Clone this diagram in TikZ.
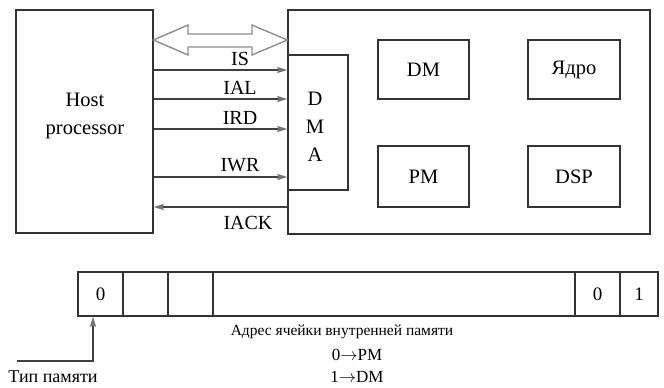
\documentclass[tikz,border=0pt]{standalone}
\usepackage{fontspec}
\setmainfont{Liberation Serif}
\usetikzlibrary{arrows.meta}

\tikzset{
    blk/.style={draw=black!80, line width=1.3pt, inner sep=0pt},
    sig/.style={draw=black!75, line width=1.3pt, -{Stealth[length=10pt, width=6pt, inset=1pt, black!55]}},
    lbl/.style={font=\fontsize{20}{24}\selectfont},
    big/.style={font=\fontsize{20.5}{28}\selectfont},
    small/.style={font=\fontsize{15.5}{18}\selectfont},
}

\begin{document}
\begin{tikzpicture}[x=1pt, y=-1pt]
        \useasboundingbox (0,0) rectangle (664,388);

        % Blocks
        \node[blk, minimum width=137pt, minimum height=223pt] (host) at (84.5,121.5) {};
        \node[big, align=center] at (85,116) {Host\\processor};
        \node[blk, minimum width=362pt, minimum height=224pt] (chip) at (469,122) {};
        \node[blk, minimum width=60pt, minimum height=135pt] (dma) at (318,122.5) {};
        \node[big, align=center] at (315,127) {D\\M\\A};
        \node[blk, big, minimum width=91pt, minimum height=59pt] (dm) at (423.5,69.5) {DM};
        \node[blk, big, minimum width=92pt, minimum height=59pt] (core) at (574,69.5) {Ядро};
        \node[blk, big, minimum width=91pt, minimum height=61pt] (pm) at (423.5,176.5) {PM};
        \node[blk, big, minimum width=92pt, minimum height=61pt] (dsp) at (574,176.5) {DSP};

        % Data bus
        \draw[black!45, line width=1.4pt, line join=miter]
            (host.east |- 0,40) -- (188,25) -- (188,34) -- (252,34) -- (252,25) -- (chip.west |- 0,40)
            -- (252,55) -- (252,47) -- (188,47) -- (188,55) -- cycle;

        % Control lines
        \foreach \y/\name/\ly in {70/IS/59, 99/IAL/88, 129/IRD/118, 177/IWR/165}{
            \draw[sig] (host.east |- 0,\y) -- (dma.west |- 0,\y);
            \node[lbl] at (240,\ly) {\name};
        }
        \draw[sig] (chip.west |- 0,207) -- (host.east |- 0,207);
        \node[lbl] at (248,223) {IACK};

        % Address register
        \node[blk, minimum width=580pt, minimum height=44pt] (reg) at (368,294) {};
        \foreach \x in {123, 168, 213, 575, 620}
            \draw[black!80, line width=1.3pt] (\x,0 |- reg.north) -- (\x,0 |- reg.south);
        \node[font=\fontsize{19}{22}\selectfont] (bitmem) at (100.5,294) {0};
        \node[font=\fontsize{19}{22}\selectfont] (bitlo) at (597.5,294) {0};
        \node[font=\fontsize{19}{22}\selectfont] (bithi) at (639,294) {1};

        % Notes
        \node[small] (addr) at (342,332) {Адрес ячейки внутренней памяти};
        \node[font=\fontsize{17}{20}\selectfont] (pmsel) at (357,355) {0$\rightarrow$PM};
        \node[font=\fontsize{17}{20}\selectfont] (dmsel) at (357,377) {1$\rightarrow$DM};
        \node[font=\fontsize{18}{20}\selectfont] (memtype) at (53,377) {Тип памяти};
        \coordinate (tstart) at (17,361);
        \draw[sig] (tstart) -- (93,361) -- (93,0 |- reg.south);
    \end{tikzpicture}
\end{document}
